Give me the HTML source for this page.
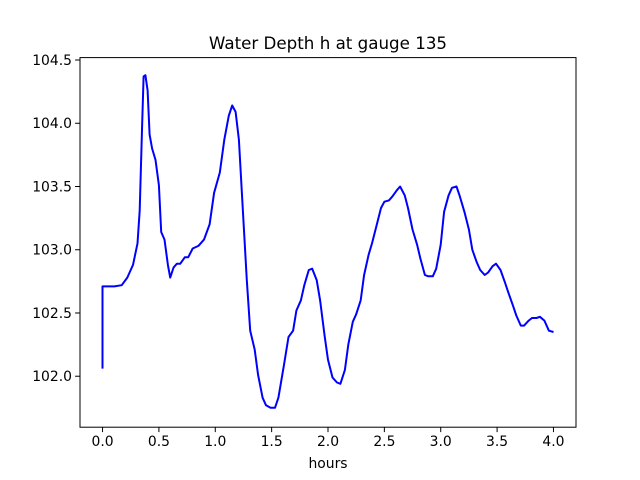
<!DOCTYPE html>
<html><head><meta charset="utf-8">
<style>
body{margin:0;background:#fff;}
svg{display:block;font-family:"DejaVu Sans","Liberation Sans",sans-serif;}
</style></head>
<body>
<svg id="chart" width="640" height="480" xmlns="http://www.w3.org/2000/svg">
<rect x="0" y="0" width="640" height="480" fill="#fff"/>
<text x="328" y="49" text-anchor="middle" font-size="16.7">Water Depth h at gauge 135</text>
<text x="328" y="468" text-anchor="middle" font-size="13.9">hours</text>
<g id="ticks"></g>
<polyline id="series" fill="none" stroke="#0000ff" stroke-width="2" stroke-linejoin="round"/>
<rect x="80" y="57.6" width="496" height="369.6" fill="none" stroke="#000" stroke-width="1"/>
</svg>
<script>
const times=[0,0,0.106,0.17,0.22,0.27,0.31,0.33,0.35,0.364,0.38,0.40,0.417,0.44,0.47,0.50,0.52,0.55,0.58,0.60,0.63,0.66,0.69,0.73,0.76,0.80,0.85,0.90,0.95,0.99,1.04,1.08,1.12,1.15,1.18,1.21,1.24,1.28,1.31,1.35,1.38,1.42,1.45,1.49,1.53,1.56,1.61,1.65,1.69,1.72,1.76,1.79,1.83,1.86,1.90,1.93,1.97,2.00,2.04,2.08,2.11,2.15,2.18,2.22,2.25,2.29,2.32,2.36,2.39,2.43,2.47,2.50,2.54,2.57,2.61,2.64,2.68,2.71,2.75,2.79,2.82,2.86,2.89,2.93,2.96,3.00,3.03,3.07,3.10,3.14,3.17,3.21,3.25,3.28,3.32,3.35,3.39,3.42,3.46,3.49,3.53,3.57,3.60,3.64,3.67,3.71,3.74,3.78,3.81,3.85,3.88,3.92,3.96,4.00];
const depths=[102.06,102.71,102.71,102.72,102.78,102.88,103.05,103.31,103.95,104.37,104.38,104.26,103.91,103.80,103.71,103.51,103.14,103.08,102.88,102.78,102.86,102.89,102.89,102.94,102.94,103.01,103.03,103.08,103.20,103.45,103.61,103.87,104.06,104.14,104.09,103.87,103.39,102.76,102.36,102.21,102.01,101.83,101.77,101.75,101.75,101.83,102.09,102.31,102.36,102.52,102.60,102.72,102.84,102.85,102.76,102.60,102.32,102.13,101.99,101.95,101.94,102.05,102.25,102.43,102.49,102.60,102.80,102.96,103.05,103.19,103.33,103.38,103.39,103.42,103.47,103.50,103.43,103.33,103.16,103.04,102.93,102.80,102.79,102.79,102.85,103.04,103.30,103.43,103.49,103.50,103.42,103.30,103.16,103.00,102.90,102.84,102.80,102.82,102.87,102.89,102.84,102.74,102.66,102.56,102.48,102.40,102.40,102.44,102.46,102.46,102.47,102.44,102.36,102.35];
const xTicks=[0,0.5,1,1.5,2,2.5,3,3.5,4];
const xTickLabels=["0.0","0.5","1.0","1.5","2.0","2.5","3.0","3.5","4.0"];
const yTicks=[102,102.5,103,103.5,104,104.5];
const yTickLabels=["102.0","102.5","103.0","103.5","104.0","104.5"];

const X0=80,X1=576,Y0=427.2,Y1=57.6;
const xMin=-0.2,xMax=4.2,yMin=101.597,yMax=104.519;
function sx(v){return X0+(v-xMin)/(xMax-xMin)*(X1-X0);}
function sy(v){return Y0-(v-yMin)/(yMax-yMin)*(Y0-Y1);}
const NS="http://www.w3.org/2000/svg";
const g=document.getElementById('ticks');
xTicks.forEach((t,i)=>{
  const l=document.createElementNS(NS,'line');
  
  
  l.setAttribute('x1',sx(t));l.setAttribute('x2',sx(t));
  l.setAttribute('y1',Y0);l.setAttribute('y2',Y0+4.9);
  l.setAttribute('stroke','#000');
  g.appendChild(l);
  const tx=document.createElementNS(NS,'text');
  
  
  tx.setAttribute('x',sx(t));tx.setAttribute('y',Y0+19);
  tx.setAttribute('text-anchor','middle');tx.setAttribute('font-size','13.9');
  tx.textContent=xTickLabels[i];
  g.appendChild(tx);
});
yTicks.forEach((t,i)=>{
  const l=document.createElementNS(NS,'line');
  
  
  l.setAttribute('x1',X0-4.9);l.setAttribute('x2',X0);
  l.setAttribute('y1',sy(t));l.setAttribute('y2',sy(t));
  l.setAttribute('stroke','#000');
  g.appendChild(l);
  const tx=document.createElementNS(NS,'text');
  
  
  tx.setAttribute('x',X0-8);tx.setAttribute('y',sy(t)+5);
  tx.setAttribute('text-anchor','end');tx.setAttribute('font-size','13.9');
  tx.textContent=yTickLabels[i];
  g.appendChild(tx);
});
document.getElementById('series').setAttribute('points',times.map((t,i)=>sx(t).toFixed(1)+','+sy(depths[i]).toFixed(1)).join(' '));
</script>
</body></html>
